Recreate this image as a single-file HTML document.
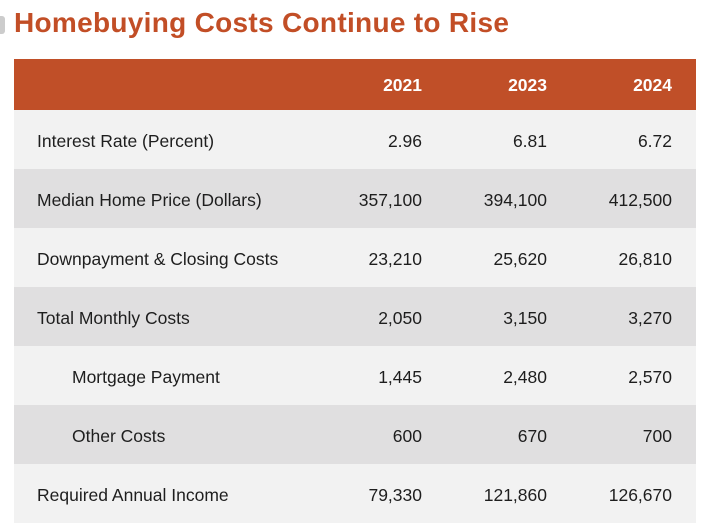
<!DOCTYPE html>
<html><head><meta charset="utf-8"><style>
body{margin:0;width:708px;height:528px;background:#fff;font-family:"Liberation Sans",sans-serif;position:relative;overflow:hidden}
#mark{position:absolute;left:0;top:16px;width:5px;height:18px;background:#ccc;border-radius:0 3px 3px 0}
h1{position:absolute;left:14px;top:7px;margin:0;font-size:28px;font-weight:bold;color:#c24e26;letter-spacing:0.3px}
table{position:absolute;left:14px;top:59px;width:682px;border-collapse:collapse;table-layout:fixed;font-size:17.5px;color:#1e1e1e}
th{background:#c04f28;color:#fff;height:49px;text-align:right;font-size:17.5px;padding:2px 24px 0 0}
td{height:55px;padding:4px 24px 0 0;text-align:right;box-sizing:content-box}
td.l{text-align:left;padding-left:23px;padding-right:0;white-space:nowrap}
td.i{padding-left:58px}
tr.a td{background:#f2f2f2}tr.b td{background:#e0dfe0}
</style></head><body>
<div id="mark"></div>
<h1>Homebuying Costs Continue to Rise</h1>
<table>
<colgroup><col style="width:307px"><col style="width:125px"><col style="width:125px"><col style="width:125px"></colgroup>
<tr><th></th><th>2021</th><th>2023</th><th>2024</th></tr>
<tr class="a"><td class="l">Interest Rate (Percent)</td><td>2.96</td><td>6.81</td><td>6.72</td></tr>
<tr class="b"><td class="l">Median Home Price (Dollars)</td><td>357,100</td><td>394,100</td><td>412,500</td></tr>
<tr class="a"><td class="l">Downpayment &amp; Closing Costs</td><td>23,210</td><td>25,620</td><td>26,810</td></tr>
<tr class="b"><td class="l">Total Monthly Costs</td><td>2,050</td><td>3,150</td><td>3,270</td></tr>
<tr class="a"><td class="l i">Mortgage Payment</td><td>1,445</td><td>2,480</td><td>2,570</td></tr>
<tr class="b"><td class="l i">Other Costs</td><td>600</td><td>670</td><td>700</td></tr>
<tr class="a"><td class="l">Required Annual Income</td><td>79,330</td><td>121,860</td><td>126,670</td></tr>
</table>
</body></html>
